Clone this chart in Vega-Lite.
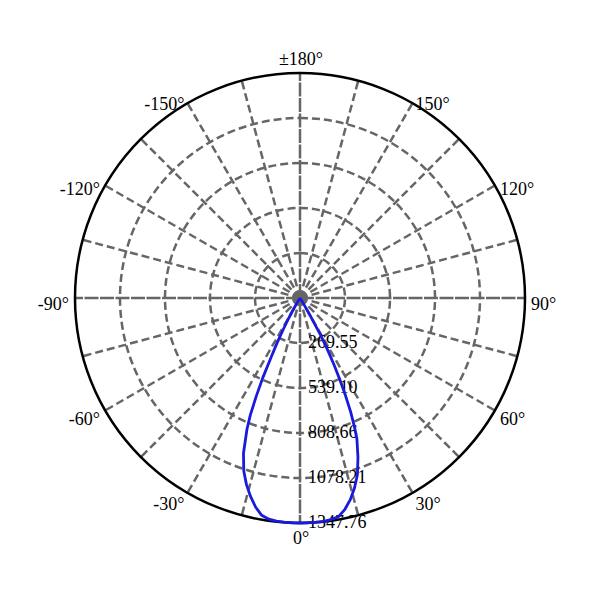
{
  "$schema": "https://vega.github.io/schema/vega-lite/v6.json",
  "width": 450,
  "height": 450,
  "autosize": {"type": "none"},
  "padding": {"left": 75, "top": 73, "right": 75, "bottom": 77},
  "background": "white",
  "config": {"view": {"stroke": null}, "text": {"font": "Liberation Serif", "fontSize": 18, "color": "black"}},
  "datasets": {
    "rings": [{"r": 269.55}, {"r": 539.10}, {"r": 808.66}, {"r": 1078.21}],
    "outer": [{"r": 1347.76}],
    "spokes": [
      {"angle": -165}, {"angle": -150}, {"angle": -135}, {"angle": -120}, {"angle": -105}, {"angle": -90},
      {"angle": -75}, {"angle": -60}, {"angle": -45}, {"angle": -30}, {"angle": -15}, {"angle": 0},
      {"angle": 15}, {"angle": 30}, {"angle": 45}, {"angle": 60}, {"angle": 75}, {"angle": 90},
      {"angle": 105}, {"angle": 120}, {"angle": 135}, {"angle": 150}, {"angle": 165}, {"angle": 180}
    ],
    "ticks": [
      {"r": 269.55, "label": "269.55"}, {"r": 539.10, "label": "539.10"}, {"r": 808.66, "label": "808.66"},
      {"r": 1078.21, "label": "1078.21"}, {"r": 1347.76, "label": "1347.76"}
    ],
    "anglelabels": [
      {"angle": 0, "label": "0°"}, {"angle": 30, "label": "30°"}, {"angle": 60, "label": "60°"},
      {"angle": 90, "label": "90°"}, {"angle": 120, "label": "120°"}, {"angle": 150, "label": "150°"},
      {"angle": 180, "label": "±180°"}, {"angle": -150, "label": "-150°"}, {"angle": -120, "label": "-120°"},
      {"angle": -90, "label": "-90°"}, {"angle": -60, "label": "-60°"}, {"angle": -30, "label": "-30°"}
    ],
    "curve": [
      {"angle": -40, "cd": 0}, {"angle": -35, "cd": 0}, {"angle": -32, "cd": 10}, {"angle": -31, "cd": 40},
      {"angle": -30, "cd": 90}, {"angle": -29, "cd": 150}, {"angle": -28, "cd": 217}, {"angle": -27, "cd": 305},
      {"angle": -26, "cd": 392}, {"angle": -25, "cd": 528}, {"angle": -24, "cd": 645}, {"angle": -23, "cd": 762},
      {"angle": -22, "cd": 848}, {"angle": -20, "cd": 990}, {"angle": -18, "cd": 1090}, {"angle": -16, "cd": 1163},
      {"angle": -14, "cd": 1225}, {"angle": -12, "cd": 1280}, {"angle": -10, "cd": 1322}, {"angle": -8, "cd": 1338},
      {"angle": -6, "cd": 1344}, {"angle": -4, "cd": 1346}, {"angle": -2, "cd": 1347}, {"angle": 0, "cd": 1347.76},
      {"angle": 2, "cd": 1347}, {"angle": 4, "cd": 1346}, {"angle": 6, "cd": 1345}, {"angle": 8, "cd": 1340},
      {"angle": 10, "cd": 1330}, {"angle": 12, "cd": 1294}, {"angle": 14, "cd": 1245}, {"angle": 16, "cd": 1184},
      {"angle": 18, "cd": 1113}, {"angle": 20, "cd": 1015}, {"angle": 22, "cd": 910}, {"angle": 23, "cd": 830},
      {"angle": 24, "cd": 745}, {"angle": 25, "cd": 645}, {"angle": 26, "cd": 546}, {"angle": 27, "cd": 450},
      {"angle": 28, "cd": 352}, {"angle": 29, "cd": 258}, {"angle": 30, "cd": 130}, {"angle": 31, "cd": 50},
      {"angle": 32, "cd": 15}, {"angle": 35, "cd": 0}, {"angle": 40, "cd": 0}
    ]
  },
  "layer": [
    {
      "data": {"name": "rings"},
      "mark": {"type": "arc", "theta": 0, "theta2": 6.2832, "filled": false, "color": "#666666", "strokeWidth": 2.5, "strokeDash": [8, 4]},
      "encoding": {
        "x": {"datum": 0, "type": "quantitative", "scale": {"domain": [-1347.76, 1347.76], "nice": false, "zero": false}, "axis": null},
        "y": {"datum": 0, "type": "quantitative", "scale": {"domain": [-1347.76, 1347.76], "nice": false, "zero": false}, "axis": null},
        "radius": {"field": "r", "type": "quantitative", "stack": null, "scale": {"type": "linear", "domain": [0, 1347.76], "range": [0, 225], "zero": true}}
      }
    },
    {
      "data": {"name": "spokes"},
      "transform": [
        {"filter": "datum.angle % 90 !== 0"},
        {"calculate": "0", "as": "x0"},
        {"calculate": "0", "as": "y0"},
        {"calculate": "1347.76 * sin(datum.angle * PI / 180)", "as": "xe"},
        {"calculate": "-1347.76 * cos(datum.angle * PI / 180)", "as": "ye"}
      ],
      "mark": {"type": "rule", "color": "#666666", "strokeWidth": 2.5, "strokeDash": [8, 4]},
      "encoding": {
        "x": {"field": "x0", "type": "quantitative"},
        "y": {"field": "y0", "type": "quantitative"},
        "x2": {"field": "xe"},
        "y2": {"field": "ye"}
      }
    },
    {
      "data": {"name": "spokes"},
      "transform": [
        {"filter": "datum.angle % 90 === 0"},
        {"calculate": "0", "as": "x0"},
        {"calculate": "0", "as": "y0"},
        {"calculate": "1347.76 * sin(datum.angle * PI / 180)", "as": "xe"},
        {"calculate": "-1347.76 * cos(datum.angle * PI / 180)", "as": "ye"}
      ],
      "mark": {"type": "rule", "color": "#666666", "strokeWidth": 2.5, "strokeDash": [14, 1.5]},
      "encoding": {
        "x": {"field": "x0", "type": "quantitative"},
        "y": {"field": "y0", "type": "quantitative"},
        "x2": {"field": "xe"},
        "y2": {"field": "ye"}
      }
    },
    {
      "data": {"name": "outer"},
      "mark": {"type": "arc", "theta": 0, "theta2": 6.2832, "filled": false, "color": "black", "strokeWidth": 2.5},
      "encoding": {
        "x": {"datum": 0, "type": "quantitative"},
        "y": {"datum": 0, "type": "quantitative"},
        "radius": {"field": "r", "type": "quantitative", "stack": null}
      }
    },
    {
      "data": {"name": "ticks"},
      "transform": [{"calculate": "0", "as": "x0"}, {"calculate": "-datum.r", "as": "ny"}],
      "mark": {"type": "text", "align": "left", "baseline": "middle", "dx": 8},
      "encoding": {
        "x": {"field": "x0", "type": "quantitative"},
        "y": {"field": "ny", "type": "quantitative"},
        "text": {"field": "label", "type": "nominal"}
      }
    },
    {
      "data": {"name": "curve"},
      "transform": [
        {"calculate": "datum.cd * sin(datum.angle * PI / 180)", "as": "cx"},
        {"calculate": "-datum.cd * cos(datum.angle * PI / 180)", "as": "cy"}
      ],
      "mark": {"type": "line", "color": "#1a1ade", "strokeWidth": 2.8, "strokeJoin": "round"},
      "encoding": {
        "x": {"field": "cx", "type": "quantitative"},
        "y": {"field": "cy", "type": "quantitative"},
        "order": {"field": "angle", "type": "quantitative"}
      }
    },
    {
      "data": {"name": "anglelabels"},
      "transform": [
        {"filter": "datum.angle > 0 && datum.angle < 180"},
        {"calculate": "1383.7 * sin(datum.angle * PI / 180)", "as": "lx"},
        {"calculate": "-1383.7 * cos(datum.angle * PI / 180)", "as": "ly"}
      ],
      "mark": {"type": "text", "align": "left", "baseline": "middle", "dy": 7},
      "encoding": {
        "x": {"field": "lx", "type": "quantitative"},
        "y": {"field": "ly", "type": "quantitative"},
        "text": {"field": "label", "type": "nominal"}
      }
    },
    {
      "data": {"name": "anglelabels"},
      "transform": [
        {"filter": "datum.angle < 0 && datum.angle > -180"},
        {"calculate": "1383.7 * sin(datum.angle * PI / 180)", "as": "lx"},
        {"calculate": "-1383.7 * cos(datum.angle * PI / 180)", "as": "ly"}
      ],
      "mark": {"type": "text", "align": "right", "baseline": "middle", "dy": 7},
      "encoding": {
        "x": {"field": "lx", "type": "quantitative"},
        "y": {"field": "ly", "type": "quantitative"},
        "text": {"field": "label", "type": "nominal"}
      }
    },
    {
      "data": {"name": "anglelabels"},
      "transform": [
        {"filter": "datum.angle === 0 || datum.angle === 180"},
        {"calculate": "1437.6 * sin(datum.angle * PI / 180)", "as": "lx"},
        {"calculate": "-1437.6 * cos(datum.angle * PI / 180)", "as": "ly"}
      ],
      "mark": {"type": "text", "align": "center", "baseline": "middle", "dx": 1, "dy": 1.5},
      "encoding": {
        "x": {"field": "lx", "type": "quantitative"},
        "y": {"field": "ly", "type": "quantitative"},
        "text": {"field": "label", "type": "nominal"}
      }
    }
  ]
}
